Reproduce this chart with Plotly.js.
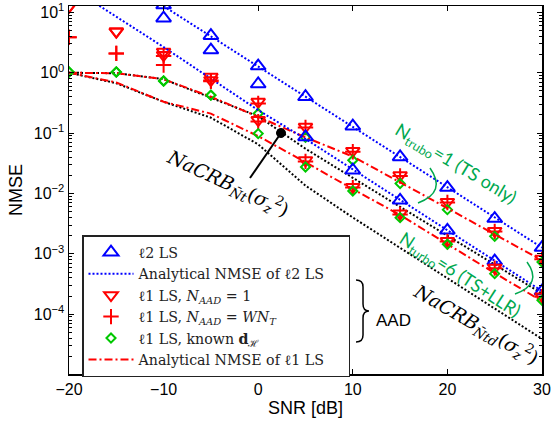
<!DOCTYPE html>
<html><head><meta charset="utf-8">
<script src="https://cdn.plot.ly/plotly-3.0.1.min.js"></script>
<style>html,body{margin:0;padding:0;background:#fff}#chart{width:560px;height:425px}</style>
</head><body><div id="chart"></div>
<script>
// ---- data ----
const snr = [-20,-15,-10,-5,0,5,10,15,20,25,30];
// l2 LS simulated (Nturbo=1 upper, Nturbo=6 lower)
const l2_t1 = [null,null,13.2,4.1,1.29,0.40,0.130,0.0403,0.01253,0.00384,0.00127];
const l2_t6 = [null,null,8.0,2.37,0.65,0.0865,0.0243,0.0077,0.00245,0.00076,0.000242];
// analytical l2
const l2an_t1 = [null,40,12.7,4.0,1.27,0.40,0.127,0.040,0.0127,0.0040,0.00127];
const l2an_t6 = [27,8.5,2.66,0.80,0.24,0.080,0.025,0.0079,0.0025,0.00077,0.000242];
// l1 LS N_AAD = 1
const l1a_t1 = [12.4,4.8,2.22,0.855,0.329,0.127,0.0507,0.020,0.00723,0.00239,0.00083];
const l1a_t6 = [12.4,4.8,1.96,0.753,0.164,0.0355,0.0128,0.00465,0.00163,0.00059,0.000197];
// l1 LS N_AAD = W N_T
const l1w_t1 = [3.85,2.09,1.9,0.74,0.31,0.124,0.049,0.0195,0.0071,0.00235,0.00081];
const l1w_t6 = [3.85,2.09,1.34,0.72,0.155,0.034,0.0125,0.0045,0.0016,0.00058,0.000195];
// l1 LS known d_H
const l1k_t1 = [1.03,1.03,0.73,0.425,0.211,0.085,0.0355,0.0146,0.0054,0.00195,0.00073];
const l1k_t6 = [1.03,1.03,0.73,0.425,0.098,0.0275,0.011,0.00398,0.00144,0.00047,0.00017];
// analytical l1
const l1an_t1 = [1.0,0.98,0.78,0.40,0.186,0.085,0.041,0.0155,0.0057,0.0021,0.00078];
const l1an_t6 = [1.0,0.69,0.33,0.21,0.089,0.033,0.0118,0.0044,0.00145,0.00048,0.000165];
// NaCRB bounds
const crb_t  = [1.0,0.98,0.78,0.39,0.19,0.055,0.018,0.006,0.002,0.00066,0.00022];
const crb_td = [1.0,0.67,0.33,0.18,0.065,0.0135,0.004,0.00126,0.0004,0.000126,0.000039];

const xTicks = [-20,-10,0,10,20,30];
const yTicks = [1e-4,1e-3,1e-2,1e-1,1,10];
const yTickText = ['10<sup>−4</sup>','10<sup>−3</sup>','10<sup>−2</sup>','10<sup>−1</sup>','10<sup>0</sup>','10<sup>1</sup>'];

const BLUE='#0000ff', RED='#ff0000', GREEN='#00c800', TXTG='#00a84f';
const LEG = '"DejaVu Serif","Liberation Serif",serif';
const DOT = '2px,2px', DASHDOT = '8px,3px,2px,3px';
const PAD = '\u00a0\u00a0\u00a0\u00a0';

function line(y,color,dash,name,show){
  return {x:snr,y:y,mode:'lines',line:{color:color,dash:dash,width:2},name:name,showlegend:!!show,connectgaps:false};
}
function mk(y,sym,size,color,name,show){
  return {x:snr,y:y,mode:'markers',marker:{symbol:sym,size:size,color:color,line:{color:color,width:2}},name:name,showlegend:!!show,cliponaxis:true};
}

const traces = [
  line(crb_t,'black',DOT,'',false),
  line(crb_td,'black',DOT,'',false),
  mk(l2_t1,'triangle-up-open',13,BLUE,'ℓ2 LS',true),
  line(l2an_t1,BLUE,DOT,'Analytical NMSE of ℓ2 LS'+PAD,true),
  mk(l1a_t1,'triangle-down-open',12,RED,'ℓ1 LS, <i>N<sub>AAD</sub></i> = 1',true),
  mk(l1w_t1,'cross-thin-open',11,RED,'ℓ1 LS, <i>N<sub>AAD</sub></i> = <i>WN<sub>T</sub></i>',true),
  mk(l1k_t1,'diamond-open',7,GREEN,'ℓ1 LS, known <b>d</b><sub>ℋ</sub>',true),
  line(l1an_t1,RED,DASHDOT,'Analytical NMSE of ℓ1 LS',true),
  line(l2an_t6,BLUE,DOT,'',false),
  line(l1an_t6,RED,DASHDOT,'',false),
  mk(l2_t6,'triangle-up-open',13,BLUE,'',false),
  mk(l1a_t6,'triangle-down-open',12,RED,'',false),
  mk(l1w_t6,'cross-thin-open',11,RED,'',false),
  mk(l1k_t6,'diamond-open',7,GREEN,'',false)
];

// pixel -> paper helpers for decorations
const L=69,R=542,T=6,B=374;
const px=v=>(v-L)/(R-L), py=v=>(B-v)/(B-T);
function P(segs){
  return segs.map(s=>{let out=s[0];for(let i=1;i<s.length;i+=2){out+=' '+px(s[i]).toFixed(4)+','+py(s[i+1]).toFixed(4);}return out;}).join(' ');
}
function path(d,color,w){return {type:'path',xref:'paper',yref:'paper',path:d,line:{color:color,width:w}};}

const shapes = [
  path(P([['M',430,168],['Q',447,192,418,203]]),TXTG,1.5),
  path(P([['M',527,262],['Q',543,284,515,294]]),TXTG,1.5),
  path(P([['M',356,280],['Q',363,280,363,287],['L',363,304],['Q',363,311,369,311],['Q',363,311,363,318],['L',363,335],['Q',363,342,356,342]]),'black',1.5),
  {type:'line',xref:'paper',yref:'paper',x0:px(250),y0:py(178),x1:px(281),y1:py(133),line:{color:'black',width:2}},
  {type:'circle',xref:'paper',yref:'paper',x0:px(276.5),x1:px(285.5),y0:py(137.5),y1:py(128.5),fillcolor:'black',line:{color:'black',width:1}}
];

const serifI = '"DejaVu Serif","Liberation Serif",serif';
const gFont = {family:'Lato, "Open Sans", sans-serif',size:18,color:TXTG};
function ann(x,y,text,font,angle){
  return {xref:'paper',yref:'paper',x:px(x),y:py(y),xanchor:'center',yanchor:'middle',showarrow:false,textangle:angle||0,text:text,font:font};
}
const annotations = [
  ann(228,183,'<i>NaCRB</i><sub><i>N̄t</i></sub>(<i>σ</i><sub><i>z</i></sub><sup>2</sup>)',{family:serifI,size:19,color:'black'},25),
  ann(476,324,'<i>NaCRB</i><sub><i>N̄td</i></sub>(<i>σ</i><sub><i>z</i></sub><sup>2</sup>)',{family:serifI,size:19,color:'black'},30),
  ann(456,164,'N<sub>trubo</sub>=1 (TS only)',gFont,31),
  ann(460,275,'N<sub>turbo</sub>=6 (TS+LLR)',gFont,33),
  ann(393,320,'AAD',{family:'"Liberation Sans", Arial, sans-serif',size:17,color:'black'},0)
];

const axFont = {family:'"Liberation Sans", Arial, sans-serif',size:16,color:'black'};
const layout = {
  width:560,height:425,
  margin:{l:L,r:560-R,t:T,b:425-B},
  paper_bgcolor:'white',plot_bgcolor:'white',
  showlegend:true,
  legend:{x:px(82),y:py(235),xanchor:'left',yanchor:'top',bgcolor:'white',bordercolor:'#222',borderwidth:1.5,
          font:{family:LEG,size:14.2,color:'#222'},itemwidth:45,tracegroupgap:0},
  xaxis:{range:[-20,30],tickvals:xTicks,ticks:'inside',ticklen:5,tickwidth:1,tickcolor:'black',
         showline:true,linecolor:'black',linewidth:1.5,mirror:'ticks',showgrid:false,zeroline:false,
         tickfont:axFont,title:{text:'SNR [dB]',font:{family:'"Liberation Sans", Arial, sans-serif',size:18,color:'black'},standoff:4}},
  yaxis:{type:'log',range:[-4.99,1.105],tickvals:yTicks,ticktext:yTickText,ticks:'inside',ticklen:5,tickwidth:1,tickcolor:'black',
         showline:true,linecolor:'black',linewidth:1.5,mirror:'ticks',showgrid:false,zeroline:false,
         minor:{ticks:'inside',ticklen:3,tickcolor:'black',dtick:'D1',showgrid:false},
         tickfont:axFont,title:{text:'NMSE',font:{family:'"Liberation Sans", Arial, sans-serif',size:18,color:'black'},standoff:6}},
  shapes:shapes,annotations:annotations
};
Plotly.newPlot('chart',traces,layout,{staticPlot:true,displayModeBar:false});
</script></body></html>
